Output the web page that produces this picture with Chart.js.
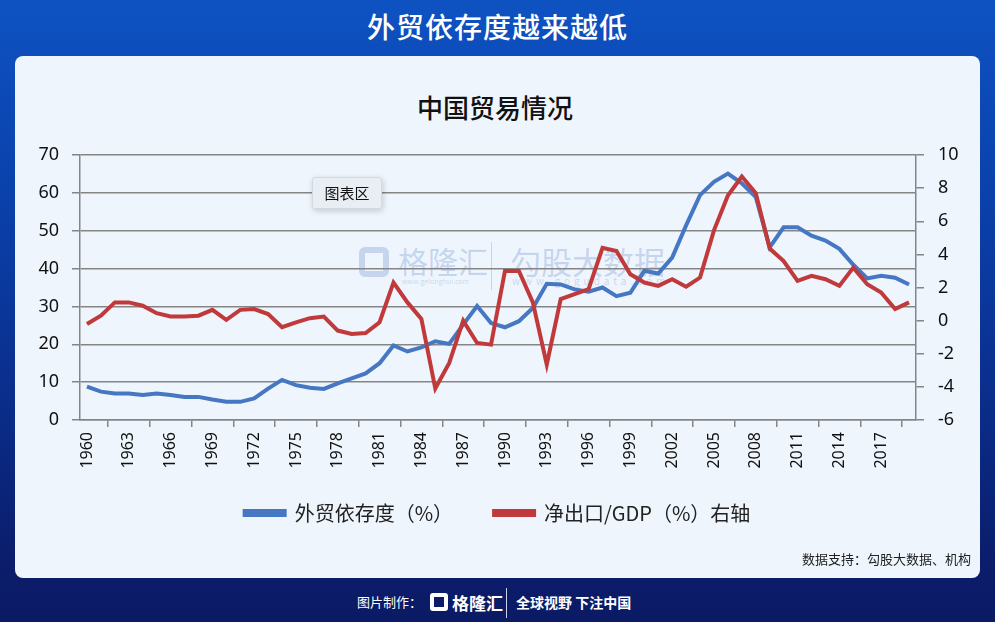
<!DOCTYPE html>
<html>
<head>
<meta charset="utf-8">
<script src="https://cdn.jsdelivr.net/npm/chart.js@4.4.0/dist/chart.umd.min.js"></script>
<style>
  html, body { margin: 0; padding: 0; }
  body {
    width: 995px; height: 622px; position: relative; overflow: hidden;
    background: linear-gradient(180deg, #0e52c2 0%, #0a3fa8 35%, #0a2d8a 65%, #0b1d6c 90%, #0b1a64 100%);
    font-family: "Noto Sans CJK SC", "Noto Sans", sans-serif;
  }
  .banner {
    position: absolute; left: 0; top: 6px; width: 995px; text-align: center;
    color: #fff; font-size: 28px; font-weight: 500; letter-spacing: 1px;
  }
  .panel {
    position: absolute; left: 15px; top: 56px; width: 965px; height: 522px;
    background: #eef5fd; border-radius: 8px;
  }
  .chart-title {
    position: absolute; left: 0; top: 88px; width: 990px; text-align: center;
    font-size: 26px; color: #111; font-weight: 500;
  }
  .wm { position: absolute; color: rgba(110, 145, 205, 0.32); pointer-events: none; }
  .tip {
    position: absolute; left: 312px; top: 177px; width: 68px; height: 30px;
    background: #e9eef4; border: 1px solid #d4d9df; border-radius: 3px;
    box-shadow: 1px 2px 6px rgba(0,0,0,0.18);
    font-size: 15px; line-height: 30px; text-align: center; color: #111;
  }
  .source {
    position: absolute; right: 24px; top: 549px; font-size: 13px; color: #222;
  }
  .footer { position: absolute; top: 592px; color: #fff; font-size: 13px; }
  #wrap { position: absolute; left: 15px; top: 130px; width: 965px; height: 420px; }
</style>
</head>
<body>
<div class="banner">外贸依存度越来越低</div>
<div class="panel"></div>
<div class="chart-title">中国贸易情况</div>

<!-- faint watermark behind the plot -->
<div class="wm" style="left:359px;top:247px;width:30px;height:30px;border:6px solid rgba(110,145,205,0.32);border-radius:6px;box-sizing:border-box;"></div>
<div class="wm" style="left:398px;top:238px;font-size:30px;">格隆汇</div>
<div class="wm" style="left:402px;top:276px;font-size:7px;">www.gelonghui.com</div>
<div class="wm" style="left:491px;top:242px;width:1px;height:48px;background:rgba(110,145,205,0.32);"></div>
<div class="wm" style="left:510px;top:238px;font-size:31px;">勾股大数据</div>
<div class="wm" style="left:512px;top:273px;font-size:10px;letter-spacing:4px;">www.gogudata.com</div>

<div id="wrap"><canvas id="chart"></canvas></div>
<div class="tip">图表区</div>

<div class="source">数据支持：勾股大数据、机构</div>
<div class="footer" style="left:357px;">图片制作：</div>
<div class="footer" style="left:430px;top:593px;width:18px;height:18px;border:4px solid #fff;border-radius:3px;box-sizing:border-box;"></div>
<div class="footer" style="left:452px;top:590px;font-size:17px;font-weight:700;">格隆汇</div>
<div class="footer" style="left:506px;top:588px;width:1px;height:30px;background:#c8d0e8;"></div>
<div class="footer" style="left:516px;top:592px;font-size:14px;font-weight:700;">全球视野 下注中国</div>

<script>
// years 1960-2019
const years = [];
for (let y = 1960; y <= 2019; y++) years.push(String(y));

// 外贸依存度 (%), left axis
const tradeDependence = [
  8.8, 7.5, 7.0, 7.0, 6.6, 7.0, 6.6, 6.1, 6.1, 5.4,
  4.8, 4.8, 5.7, 8.3, 10.6, 9.2, 8.5, 8.2, 9.7, 11.0,
  12.3, 15.0, 19.7, 18.1, 19.2, 20.8, 20.1, 25.2, 30.1, 25.6,
  24.5, 26.1, 29.6, 36.0, 35.8, 34.5, 33.9, 35.0, 32.7, 33.6,
  39.4, 38.7, 42.9, 51.4, 59.4, 62.9, 65.1, 62.5, 58.9, 45.6,
  50.9, 50.9, 48.7, 47.4, 45.2, 41.0, 37.4, 38.1, 37.6, 35.8
];

// 净出口/GDP (%), right axis
const netExportsGdp = [
  -0.2, 0.3, 1.1, 1.1, 0.9, 0.45, 0.25, 0.25, 0.3, 0.65,
  0.05, 0.65, 0.7, 0.4, -0.4, -0.1, 0.15, 0.25, -0.6, -0.8,
  -0.75, -0.1, 2.3, 1.1, 0.1, -4.1, -2.55, 0.0, -1.35, -1.45,
  3.0, 3.0, 1.1, -2.65, 1.3, 1.6, 1.9, 4.4, 4.2, 2.8,
  2.3, 2.1, 2.5, 2.05, 2.6, 5.45, 7.55, 8.7, 7.7, 4.35,
  3.6, 2.4, 2.7, 2.5, 2.1, 3.2, 2.2, 1.7, 0.7, 1.1
];

const leftTicks = [0, 10, 20, 30, 40, 50, 60, 70];
const rightTicks = [-6, -4, -2, 0, 2, 4, 6, 8, 10];

const axisGray = '#858585';
const tickFont = { family: 'Noto Sans', size: 18 };

const ctx = document.getElementById('chart').getContext('2d');
new Chart(ctx, {
  type: 'line',
  data: {
    labels: years,
    datasets: [
      {
        label: '外贸依存度（%）',
        data: tradeDependence,
        yAxisID: 'y',
        borderColor: '#4677c2',
        backgroundColor: '#4677c2',
        borderWidth: 4,
        pointRadius: 0,
        tension: 0,
        order: 1
      },
      {
        label: '净出口/GDP（%）右轴',
        data: netExportsGdp,
        yAxisID: 'y1',
        borderColor: '#c0393b',
        backgroundColor: '#c0393b',
        borderWidth: 4,
        pointRadius: 0,
        tension: 0,
        order: 0
      }
    ]
  },
  options: {
    responsive: true,
    maintainAspectRatio: false,
    animation: false,
    layout: { padding: { top: 25, bottom: 17, left: 0, right: 0 } },
    plugins: {
      tooltip: { enabled: false },
      legend: {
        position: 'bottom',
        labels: {
          boxWidth: 40,
          boxHeight: 4,
          padding: 21,
          color: '#222',
          font: { family: 'Noto Sans CJK SC', size: 20 },
          sort: (a, b) => a.datasetIndex - b.datasetIndex,
          // wider gap after the first entry, as in the original
          generateLabels: (chart) => {
            const items = Chart.defaults.plugins.legend.labels.generateLabels(chart);
            items.forEach(it => { if (it.datasetIndex === 0) it.text += '\u3000\u2002'; });
            return items;
          }
        }
      }
    },
    scales: {
      x: {
        type: 'category',
        offset: true,
        afterFit: (s) => { s.height = 62; },
        grid: {
          offset: true,
          drawOnChartArea: false,
          color: axisGray,
          lineWidth: 1.5,
          tickLength: 7
        },
        border: { color: axisGray, width: 1.5 },
        ticks: {
          autoSkip: false,
          maxRotation: 90,
          minRotation: 90,
          padding: 5,
          color: '#111',
          font: { family: 'Noto Sans', size: 16 },
          callback: (val, i) => (i % 3 === 0 ? years[i] : null)
        }
      },
      y: {
        position: 'left',
        min: leftTicks[0],
        max: leftTicks[leftTicks.length - 1],
        afterFit: (s) => { s.width = 65; },
        afterBuildTicks: (s) => { s.ticks = leftTicks.map(v => ({ value: v })); },
        grid: { color: axisGray, lineWidth: 1.5, tickLength: 8 },
        border: { color: axisGray, width: 1.5 },
        ticks: { padding: 13, color: '#111', font: tickFont }
      },
      y1: {
        position: 'right',
        min: rightTicks[0],
        max: rightTicks[rightTicks.length - 1],
        afterFit: (s) => { s.width = 64; },
        afterBuildTicks: (s) => { s.ticks = rightTicks.map(v => ({ value: v })); },
        grid: { drawOnChartArea: false, color: axisGray, lineWidth: 1.5, tickLength: 8 },
        border: { color: axisGray, width: 1.5 },
        ticks: { padding: 14, color: '#111', font: tickFont }
      }
    }
  }
});
</script>
</body>
</html>
